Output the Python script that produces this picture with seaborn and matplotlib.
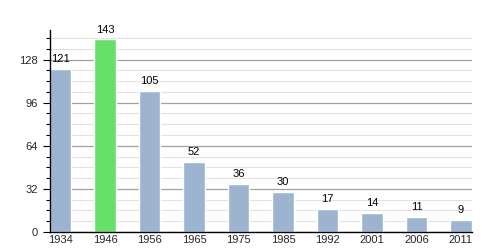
import matplotlib
matplotlib.use("Agg")
import matplotlib.pyplot as plt
import seaborn as sns
import pandas as pd
from matplotlib.ticker import MultipleLocator

years = ["1934", "1946", "1956", "1965", "1975", "1985", "1992", "2001", "2006", "2011"]
population = [121, 143, 105, 52, 36, 30, 17, 14, 11, 9]
highlight = ["no", "yes", "no", "no", "no", "no", "no", "no", "no", "no"]

df = pd.DataFrame({"year": years, "pop": population, "hl": highlight})

sns.set_style("white")
plt.rcParams["font.family"] = ["Liberation Sans", "DejaVu Sans"]

fig = plt.figure(figsize=(5, 2.5), dpi=100)
ax = fig.add_axes([0.1, 0.072, 0.844, 0.808])

palette = {"no": "#9cb4cf", "yes": "#66e066"}
sns.barplot(data=df, x="year", y="pop", hue="hl", palette=palette, dodge=False,
            width=0.48, legend=False, ax=ax, saturation=1)

ax.set_ylim(0, 150)
ax.set_xlim(-0.24, 9.25)
ax.yaxis.set_major_locator(MultipleLocator(32))
ax.yaxis.set_minor_locator(MultipleLocator(8))
ax.grid(axis="y", which="major", color="#a0a0a0", linewidth=0.9)
ax.grid(axis="y", which="minor", color="#e2e2e2", linewidth=0.8)
ax.set_axisbelow(True)
ax.tick_params(axis="y", which="major", length=5, width=0.8, labelsize=8, color="black", left=True)
ax.tick_params(axis="y", which="minor", length=3, width=0.8, color="black", left=True)
ax.tick_params(axis="x", length=0, labelsize=8, pad=2)
for s in ["top", "right"]:
    ax.spines[s].set_visible(False)
for s in ["left", "bottom"]:
    ax.spines[s].set_color("black")
    ax.spines[s].set_linewidth(1)
ax.set_xlabel("")
ax.set_ylabel("")

for i, v in enumerate(population):
    ax.text(i, v + 3.5, str(v), ha="center", va="bottom", fontsize=8, color="black")

fig.savefig("out.png", dpi=100)
